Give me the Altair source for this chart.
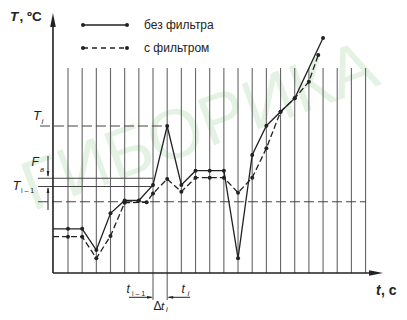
import altair as alt
import pandas as pd

# ---- data (time step index k, temperature in arbitrary units) ----
grid_steps = list(range(22))

raw_k = [0, 1, 2, 3, 4, 5, 6, 7, 8, 9, 10, 11, 12, 13, 14, 15, 16, 18]
raw_T = [4.42, 4.42, 2.3, 5.97, 7.25, 7.25, 8.8, 14.7, 8.8, 10.23, 10.23, 10.23,
         1.47, 11.8, 14.73, 16.13, 17.47, 23.5]

flt_k = [0, 1, 2, 3, 4, 5.55, 6, 7, 8, 9, 10, 11, 12, 13, 14, 15, 16, 17, 17.66]
flt_T = [3.63, 3.63, 1.47, 3.7, 7.03, 7.07, 7.95, 9.4, 8.13, 9.53, 9.53, 9.53,
         8.03, 9.53, 12.47, 16.13, 17.47, 19.13, 21.8]

axis_k = -1.06          # position of the vertical axis
T_i = 14.7
T_prev_hi = 9.47
T_prev_lo = 8.65
T_band_lo = 7.13

legend_labels = ["без фильтра", "с фильтром"]

W, H = 391, 304
X = dict(scale=alt.Scale(domain=[-4.234, 23.36], nice=False, zero=False), axis=None)
Y = dict(scale=alt.Scale(domain=[-3.9, 26.5], nice=False, zero=False), axis=None)
INK = "#222222"


def seg(rows):
    return pd.DataFrame(rows, columns=["k", "k2", "T", "T2"])


def rules(df, **kw):
    return alt.Chart(df).mark_rule(**kw).encode(
        x=alt.X("k:Q", **X), x2="k2:Q", y=alt.Y("T:Q", **Y), y2="T2:Q")


def arrow(df, path, size):
    return alt.Chart(df).mark_point(shape=path, filled=True, size=size, color=INK, opacity=1).encode(
        x=alt.X("k:Q", **X), y=alt.Y("T:Q", **Y))


def txt(s, x, y, size=13, style="italic", weight="normal", align="left"):
    return alt.Chart(pd.DataFrame({"t": [s]})).mark_text(
        align=align, baseline="alphabetic", font="Liberation Sans", fontSize=size,
        fontStyle=style, fontWeight=weight, color=INK).encode(
        x=alt.value(x), y=alt.value(y), text="t:N")


# watermark
water = alt.Chart(pd.DataFrame({"t": ["ГИБОРИКА"]})).mark_text(
    align="center", baseline="middle", font="Liberation Sans", fontSize=70, angle=340,
    color="#e3f2e3").encode(x=alt.value(192), y=alt.value(120), text="t:N")

grid_df = pd.DataFrame({"k": grid_steps, "k2": grid_steps, "T": 0.0, "T2": 20.5})
grid = rules(grid_df, color="#666666", strokeWidth=1.1)

ext = rules(seg([[6, 6, 0, -2.7], [7, 7, 0, -2.7]]), color="#555555", strokeWidth=1)

hsolid = rules(seg([[-2.12, 6, T_prev_hi, T_prev_hi], [-2.12, 6, T_prev_lo, T_prev_lo]]),
               color="#444444", strokeWidth=1.1)
hdash = rules(seg([[-1.98, 7, T_i, T_i], [-2.12, 21.03, T_band_lo, T_band_lo]]),
              color="#444444", strokeWidth=1.1, strokeDash=[10, 4])

axes = rules(seg([[axis_k, axis_k, 0, 25.2], [axis_k, 21.74, 0, 0]]), color=INK, strokeWidth=1.6)
ax_up = arrow(pd.DataFrame({"k": [axis_k], "T": [25.3]}), "M0,-1L0.4,1L-0.4,1Z", 196)
ax_right = arrow(pd.DataFrame({"k": [21.74], "T": [0]}), "M1,0L-1,0.4L-1,-0.4Z", 196)

fv = rules(seg([[-1.41, -1.41, 11.7, 9.7], [-1.41, -1.41, 6.3, 8.5],
                [4.3, 5.9, -2.43, -2.43], [8.61, 7.1, -2.43, -2.43]]), color=INK, strokeWidth=1)
a_down = arrow(pd.DataFrame({"k": [-1.41], "T": [9.9]}), "M0,1L0.45,-1L-0.45,-1Z", 36)
a_up = arrow(pd.DataFrame({"k": [-1.41], "T": [8.3]}), "M0,-1L0.45,1L-0.45,1Z", 36)
a_r = arrow(pd.DataFrame({"k": [5.79], "T": [-2.43]}), "M1,0L-1,0.45L-1,-0.45Z", 36)
a_l = arrow(pd.DataFrame({"k": [7.21], "T": [-2.43]}), "M-1,0L1,0.45L1,-0.45Z", 36)

raw_df = pd.DataFrame({"k": [axis_k] + raw_k, "T": [raw_T[0]] + raw_T})
flt_df = pd.DataFrame({"k": [axis_k] + flt_k, "T": [flt_T[0]] + flt_T})
raw_line = alt.Chart(raw_df).mark_line(color=INK, strokeWidth=1.3).encode(
    x=alt.X("k:Q", **X), y=alt.Y("T:Q", **Y), order="k:Q")
flt_line = alt.Chart(flt_df).mark_line(color=INK, strokeWidth=1.3, strokeDash=[6, 3]).encode(
    x=alt.X("k:Q", **X), y=alt.Y("T:Q", **Y), order="k:Q")
raw_pts = alt.Chart(pd.DataFrame({"k": raw_k, "T": raw_T})).mark_circle(
    color=INK, size=16, opacity=1).encode(x=alt.X("k:Q", **X), y=alt.Y("T:Q", **Y))
flt_pts = alt.Chart(pd.DataFrame({"k": flt_k, "T": flt_T})).mark_circle(
    color=INK, size=16, opacity=1).encode(x=alt.X("k:Q", **X), y=alt.Y("T:Q", **Y))

# legend (drawn by hand, positions in pixels of the plot area)
leg_solid = alt.Chart(pd.DataFrame({"a": [0]})).mark_rule(color=INK, strokeWidth=1.3).encode(
    x=alt.value(75), x2=alt.value(119), y=alt.value(17))
leg_dash = alt.Chart(pd.DataFrame({"a": [0]})).mark_rule(color=INK, strokeWidth=1.3, strokeDash=[5, 4]).encode(
    x=alt.value(75), x2=alt.value(119), y=alt.value(40))
leg_dots = alt.Chart(pd.DataFrame({"px": [75, 119, 75, 119], "py": [17, 17, 40, 40]})).mark_circle(
    color=INK, size=16, opacity=1).encode(
    x=alt.X("px:Q", scale=alt.Scale(domain=[0, W], nice=False, zero=False), axis=None),
    y=alt.Y("py:Q", scale=alt.Scale(domain=[H, 0], nice=False, zero=False), axis=None))
leg_t1 = txt(legend_labels[0], 136, 21, size=12, style="normal")
leg_t2 = txt(legend_labels[1], 136, 44, size=12, style="normal")

labels = [
    txt("T", 2, 12.5, size=13.5, weight="bold"), txt(", ºC", 11.5, 12.5, size=13.5, style="normal", weight="bold"),
    txt("t", 368, 287, size=14, weight="bold"), txt(", c", 373, 287, size=14, style="normal", weight="bold"),
    txt("T", 25, 112, size=13), txt("i", 33.5, 116, size=8),
    txt("F", 23.5, 158, size=12), txt("в", 32, 164, size=8),
    txt("T", 4.5, 182, size=13), txt("i – 1", 13, 185, size=7, style="normal"),
    txt("t", 118.5, 285, size=12), txt("i – 1", 124, 288, size=7, style="normal"),
    txt("t", 173.5, 285, size=12), txt("i", 179.5, 288, size=8),
    txt("Δ", 145.5, 301.5, size=12, style="normal"), txt("t", 153, 301.5, size=11.5), txt("i", 158, 303.5, size=7.5),
]

chart = alt.layer(
    water, grid, ext, hsolid, hdash, axes, ax_up, ax_right, fv, a_down, a_up, a_r, a_l,
    raw_line, flt_line, raw_pts, flt_pts,
    leg_solid, leg_dash, leg_dots, leg_t1, leg_t2, *labels
).resolve_scale(x="independent", y="independent").properties(
    width=W, height=H, padding=0, autosize=alt.AutoSizeParams(type="none")
).configure_view(stroke=None)

chart.save("out.html", embed_options={"renderer": "svg", "actions": False})
